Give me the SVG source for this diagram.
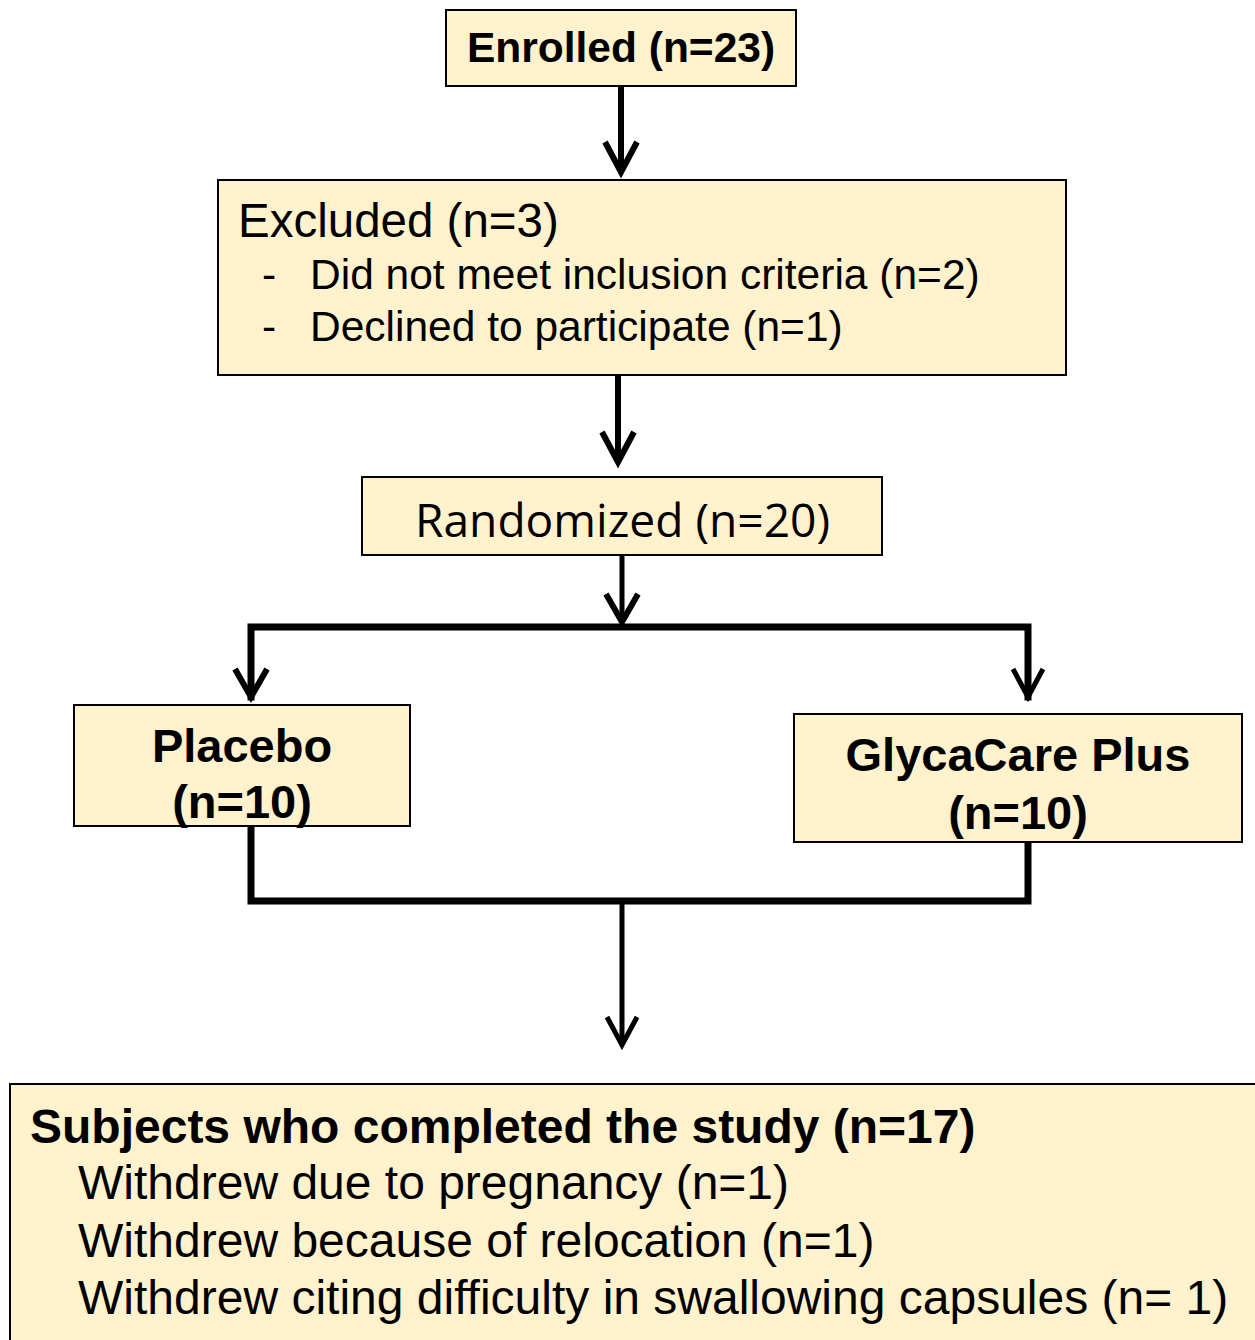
<svg xmlns="http://www.w3.org/2000/svg" width="1255" height="1340" viewBox="0 0 1255 1340">
<style>
.box{fill:#FFF2CC;stroke:#000;stroke-width:2}
.t{font-family:"Liberation Sans",Arial,sans-serif;fill:#000}
.b{font-weight:bold}
.ln{fill:none;stroke:#000;stroke-width:7;stroke-linecap:square}
.thin{fill:none;stroke:#000;stroke-width:5}
.hd{fill:none;stroke:#000;stroke-width:6;stroke-linejoin:miter}
</style>
<rect width="1255" height="1340" fill="#fff"/>
<g id="connectors">
<line class="thin" x1="621" y1="86" x2="621" y2="172" style="stroke-width:6"/>
<polyline class="hd" points="605,142 621,172 637,142"/>
<line class="thin" x1="618" y1="375" x2="618" y2="462" style="stroke-width:6"/>
<polyline class="hd" points="602,432 618,462 634,432"/>
<line class="thin" x1="622" y1="555" x2="622" y2="622"/>
<polyline class="hd" points="606,594 622,622 638,594"/>
<polyline class="ln" points="251,697 251,627 1028,627 1028,697" style="stroke-width:7"/>
<polyline class="hd" points="235,669 251,697 267,669"/>
<polyline class="hd" points="1013,669 1028,697 1043,669" style="stroke-width:5"/>
<polyline class="ln" points="251,826 251,901 1028,901 1028,842"/>
<line class="thin" x1="622" y1="901" x2="622" y2="1045"/>
<polyline class="hd" points="607,1017 622,1045 637,1017" style="stroke-width:5"/>
</g>
<g id="enrolled">
<rect class="box" x="446" y="10" width="350" height="76"/>
<text class="t b" x="621" y="62" font-size="42.5" text-anchor="middle">Enrolled (n=23)</text>
</g>
<g id="excluded">
<rect class="box" x="218" y="180" width="848" height="195"/>
<text class="t" x="238" y="237" font-size="47.5">Excluded (n=3)</text>
<text class="t" x="262" y="289" font-size="42.5">-</text>
<text class="t" x="310" y="289" font-size="42.5">Did not meet inclusion criteria (n=2)</text>
<text class="t" x="262" y="341" font-size="42.5">-</text>
<text class="t" x="310" y="341" font-size="42.5">Declined to participate (n=1)</text>
</g>
<g id="randomized">
<rect class="box" x="362" y="477" width="520" height="78"/>
<text x="415" y="537" font-family="'Open Sans','Noto Sans',sans-serif" font-size="46" textLength="415" lengthAdjust="spacingAndGlyphs">Randomized (n=20)</text>
</g>
<g id="placebo">
<rect class="box" x="74" y="705" width="336" height="121"/>
<text class="t b" x="242" y="762" font-size="47" text-anchor="middle">Placebo</text>
<text class="t b" x="242" y="818" font-size="47" text-anchor="middle">(n=10)</text>
</g>
<g id="glycacare">
<rect class="box" x="794" y="714" width="448" height="128"/>
<text class="t b" x="1018" y="771" font-size="47" text-anchor="middle">GlycaCare Plus</text>
<text class="t b" x="1018" y="829" font-size="47" text-anchor="middle">(n=10)</text>
</g>
<g id="completed">
<rect class="box" x="10" y="1084" width="1260" height="270"/>
<text class="t b" x="30" y="1143" font-size="48">Subjects who completed the study (n=17)</text>
<text class="t" x="78" y="1199" font-size="48">Withdrew due to pregnancy (n=1)</text>
<text class="t" x="78" y="1257" font-size="48">Withdrew because of relocation (n=1)</text>
<text class="t" x="78" y="1314" font-size="48">Withdrew citing difficulty in swallowing capsules (n= 1)</text>
</g>
</svg>
